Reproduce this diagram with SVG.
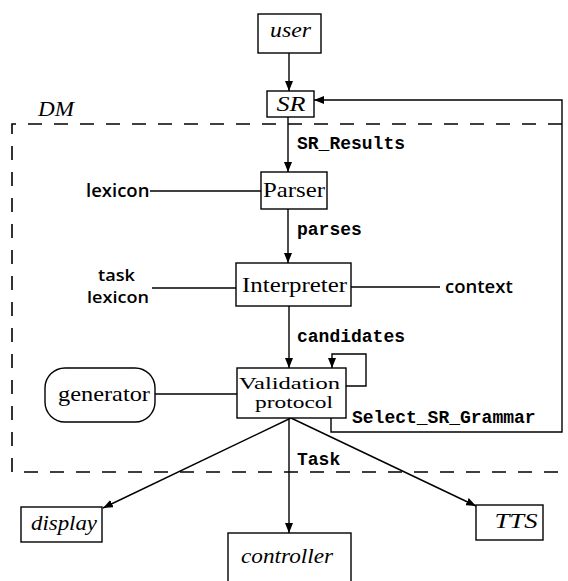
<svg xmlns="http://www.w3.org/2000/svg" width="568" height="581" viewBox="0 0 568 581">
  <style>
    .box { fill: #fff; stroke: #000; stroke-width: 1.4; }
    .wire { fill: none; stroke: #000; stroke-width: 1.4; }
    .arrow { fill: none; stroke: #000; stroke-width: 1.4; marker-end: url(#head); }
    .dm { fill: none; stroke: #000; stroke-width: 1.6; stroke-dasharray: 14 12; }
    .rm { font-family: "Liberation Serif", "Times New Roman", serif; font-size: 21px; fill: #000; }
    .rm2 { font-family: "Liberation Serif", "Times New Roman", serif; font-size: 17.5px; fill: #000; }
    .it { font-family: "Liberation Serif", "Times New Roman", serif; font-style: italic; font-size: 20px; fill: #000; }
    .tt { font-family: "Liberation Mono", "Courier New", monospace; font-weight: bold; font-size: 18px; fill: #000; }
    .sf { font-family: "Open Sans", "DejaVu Sans", sans-serif; font-weight: 600; font-size: 18.5px; fill: #000; }
    .sf2 { font-family: "Open Sans", "DejaVu Sans", sans-serif; font-weight: 600; font-size: 17px; fill: #000; }
  </style>
  <defs>
    <marker id="head" viewBox="0 0 10 8" refX="10" refY="4" markerWidth="10" markerHeight="8" markerUnits="userSpaceOnUse" orient="auto">
      <path d="M0,0 L10,4 L0,8 Z" fill="#000"/>
    </marker>
  </defs>
  <rect width="568" height="581" fill="#fff"/>

  <!-- dialogue manager boundary -->
  <g id="dm-boundary">
    <path class="dm" d="M562,124 H12 V472 H562"/>
    <text class="it" x="38" y="116" textLength="36" lengthAdjust="spacingAndGlyphs">DM</text>
  </g>

  <!-- connectors -->
  <g id="connectors">
    <line class="arrow" x1="289" y1="53" x2="289" y2="91"/>
    <line class="arrow" x1="288" y1="117" x2="288" y2="172"/>
    <line class="arrow" x1="288" y1="209" x2="288" y2="263"/>
    <line class="arrow" x1="289" y1="306" x2="289" y2="368"/>
    <line class="wire" x1="150" y1="191" x2="261" y2="191"/>
    <line class="wire" x1="152" y1="288" x2="236" y2="288"/>
    <line class="wire" x1="351" y1="287" x2="440" y2="287"/>
    <line class="wire" x1="155" y1="394" x2="237" y2="394"/>
    <path class="arrow" d="M346,386 H366 V354 H332 V368"/>
    <path class="arrow" d="M331,418 V432 H562 V100 H314"/>
    <line class="arrow" x1="291" y1="418" x2="103" y2="508"/>
    <line class="arrow" x1="289" y1="418" x2="289" y2="533"/>
    <line class="arrow" x1="291" y1="418" x2="476" y2="506"/>
    <text class="tt" x="297" y="149">SR_Results</text>
    <text class="tt" x="297" y="235">parses</text>
    <text class="tt" x="297" y="342">candidates</text>
    <text class="tt" x="352" y="423">Select_SR_Grammar</text>
    <text class="tt" x="297" y="465">Task</text>
  </g>

  <g id="user">
    <rect class="box" x="258" y="14" width="63" height="39"/>
    <text class="it" x="290.5" y="37" text-anchor="middle" textLength="41" lengthAdjust="spacingAndGlyphs">user</text>
  </g>
  <g id="sr">
    <rect class="box" x="267" y="91" width="47" height="26"/>
    <text class="it" x="291" y="111" text-anchor="middle" textLength="29" lengthAdjust="spacingAndGlyphs">SR</text>
  </g>
  <g id="parser">
    <rect class="box" x="261" y="172" width="66" height="37"/>
    <text class="rm" x="294" y="197" text-anchor="middle" textLength="62" lengthAdjust="spacingAndGlyphs">Parser</text>
  </g>
  <g id="lexicon">
    <text class="sf" x="86" y="197">lexicon</text>
  </g>
  <g id="interpreter">
    <rect class="box" x="236" y="263" width="115" height="43"/>
    <text class="rm" x="294.5" y="292" text-anchor="middle" textLength="105" lengthAdjust="spacingAndGlyphs">Interpreter</text>
  </g>
  <g id="task-lexicon">
    <text class="sf2" x="98" y="281" textLength="37" lengthAdjust="spacingAndGlyphs">task</text>
    <text class="sf2" x="87" y="303" textLength="62" lengthAdjust="spacingAndGlyphs">lexicon</text>
  </g>
  <g id="context">
    <text class="sf" x="445" y="293">context</text>
  </g>
  <g id="validation">
    <rect class="box" x="237" y="368" width="109" height="50"/>
    <text class="rm2" x="289.5" y="389" text-anchor="middle" textLength="101" lengthAdjust="spacingAndGlyphs">Validation</text>
    <text class="rm2" x="294" y="408" text-anchor="middle" textLength="78" lengthAdjust="spacingAndGlyphs">protocol</text>
  </g>
  <g id="generator">
    <rect class="box" x="45" y="368" width="110" height="54" rx="20" ry="20"/>
    <text class="rm" x="104" y="401" text-anchor="middle" textLength="92" lengthAdjust="spacingAndGlyphs">generator</text>
  </g>
  <g id="display">
    <rect class="box" x="21" y="507" width="81" height="35"/>
    <text class="it" x="64" y="530" text-anchor="middle" textLength="66" lengthAdjust="spacingAndGlyphs">display</text>
  </g>
  <g id="controller">
    <rect class="box" x="228" y="533" width="123" height="60"/>
    <text class="it" x="287" y="563" text-anchor="middle" textLength="92" lengthAdjust="spacingAndGlyphs">controller</text>
  </g>
  <g id="tts">
    <rect class="box" x="476" y="505" width="67" height="35"/>
    <text class="it" x="516" y="528" text-anchor="middle" textLength="43" lengthAdjust="spacingAndGlyphs">TTS</text>
  </g>
</svg>
